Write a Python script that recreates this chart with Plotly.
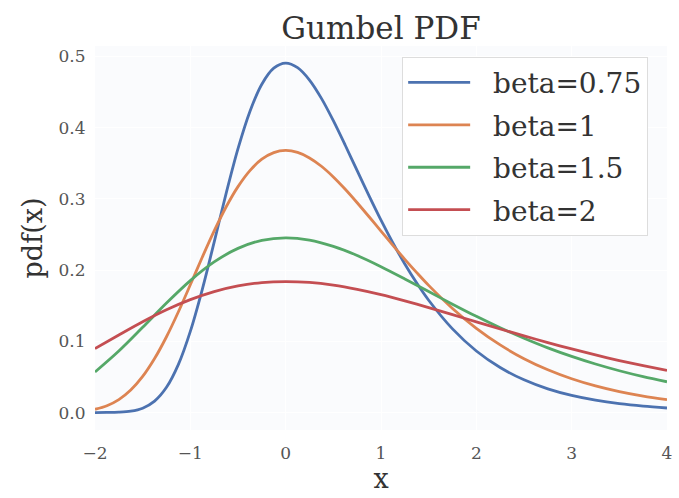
import plotly.graph_objects as go

x_vals = [-2.0, -1.75, -1.5, -1.25, -1.0, -0.75, -0.5, -0.25, 0.0, 0.25, 0.5, 0.75, 1.0,
          1.25, 1.5, 1.75, 2.0, 2.25, 2.5, 2.75, 3.0, 3.25, 3.5, 3.75, 4.0]
x_fine = [-2.0, -1.875, -1.75, -1.625, -1.5, -1.375, -1.25, -1.125, -1.0, -0.875, -0.75,
          -0.625, -0.5, -0.375, -0.25, -0.125, 0.0, 0.125, 0.25, 0.375, 0.5, 0.625, 0.75,
          0.875, 1.0, 1.125, 1.25, 1.375, 1.5,
          1.75, 2.0, 2.25, 2.5, 2.75, 3.0, 3.25, 3.5, 3.75, 4.0]

pdf_beta_075 = [0.0000, 0.0001, 0.0005, 0.0019, 0.0061, 0.0160, 0.0354, 0.0676, 0.1139,
                0.1726, 0.2392, 0.3073, 0.3704, 0.4227, 0.4609, 0.4834, 0.4905, 0.4841,
                0.4667, 0.4410, 0.4097, 0.3752, 0.3395, 0.3041, 0.2700, 0.2380, 0.2085,
                0.1817, 0.1576,
                0.1174, 0.0864, 0.0632, 0.0459, 0.0332, 0.0240, 0.0173, 0.0124, 0.0089,
                0.0064]
pdf_beta_1 = [0.0046, 0.0096, 0.0182, 0.0316, 0.0507, 0.0758, 0.1064, 0.1415, 0.1794,
              0.2179, 0.2549, 0.2885, 0.3171, 0.3396, 0.3556, 0.3649, 0.3679, 0.3651,
              0.3574, 0.3457, 0.3307, 0.3134, 0.2945, 0.2748, 0.2547, 0.2347, 0.2151,
              0.1964, 0.1785,
              0.1461, 0.1182, 0.0949, 0.0756, 0.0600, 0.0474, 0.0373, 0.0293, 0.0230,
              0.0180]
pdf_beta_15 = [0.0569, 0.0863, 0.1196, 0.1537, 0.1852, 0.2114, 0.2304, 0.2417, 0.2453,
               0.2421, 0.2333, 0.2205, 0.2048, 0.1876, 0.1698, 0.1521, 0.1350, 0.1190,
               0.1043, 0.0908, 0.0788, 0.0681, 0.0587, 0.0504, 0.0432]
pdf_beta_2 = [0.0897, 0.1089, 0.1275, 0.1443, 0.1585, 0.1698, 0.1778, 0.1825, 0.1839,
              0.1826, 0.1787, 0.1728, 0.1654, 0.1567, 0.1473, 0.1374, 0.1273, 0.1173,
              0.1076, 0.0982, 0.0893, 0.0809, 0.0730, 0.0658, 0.0591]

series_names = ["beta=0.75", "beta=1", "beta=1.5", "beta=2"]
series_x = [x_fine, x_fine, x_vals, x_vals]
series_values = [pdf_beta_075, pdf_beta_1, pdf_beta_15, pdf_beta_2]
series_colors = ["#4C72B0", "#DD8452", "#55A868", "#C44E52"]

y_ticks = [0.0, 0.1, 0.2, 0.3, 0.4, 0.5]
x_ticks = [-2, -1, 0, 1, 2, 3, 4]

FONT = "DejaVu Serif"
NBSP = "\u00a0"

fig = go.Figure()
for i, (name, xs, ys, color) in enumerate(zip(series_names, series_x, series_values, series_colors)):
    fig.add_trace(go.Scatter(
        x=xs, y=ys, mode="lines", name=NBSP * 2 + name, legendgroup=f"g{i}",
        line=dict(color=color, width=2.8, shape="spline", smoothing=0.9),
    ))

fig.update_layout(
    width=679, height=498,
    margin=dict(l=95, r=12, t=46, b=68),
    paper_bgcolor="white",
    plot_bgcolor="#fafbfd",
    font=dict(family=FONT, color="#333333"),
    title=dict(text="Gumbel PDF", xref="paper", x=0.5, xanchor="center", y=0.944, yanchor="middle",
               font=dict(family=FONT, size=31, color="#333333")),
    showlegend=True,
    legend=dict(
        x=0.537, y=0.972, xanchor="left", yanchor="top",
        bgcolor="rgba(255,255,255,0.92)", bordercolor="#dddddd", borderwidth=1,
        font=dict(family=FONT, size=28, color="#333333"),
        traceorder="grouped", tracegroupgap=3, itemwidth=62,
    ),
    xaxis=dict(
        range=[-2, 4], tickvals=x_ticks, ticktext=[str(v).replace("-", "\u2212") for v in x_ticks],
        showgrid=True, gridcolor="white", zeroline=False, showline=False, automargin=False,
        ticks="outside", ticklen=8, tickcolor="rgba(0,0,0,0)",
        tickfont=dict(family=FONT, size=17, color="#555555"),
        title=dict(text="x", font=dict(family=FONT, size=27, color="#333333"), standoff=6),
    ),
    yaxis=dict(
        range=[-0.0245, 0.5145], tickvals=y_ticks, tickformat=".1f",
        showgrid=True, gridcolor="white", zeroline=False, showline=False, automargin=False,
        ticks="outside", ticklen=5, tickcolor="rgba(0,0,0,0)",
        tickfont=dict(family=FONT, size=17, color="#555555"),
        title=dict(text="pdf(x)", font=dict(family=FONT, size=27, color="#333333"), standoff=8),
    ),
)

fig.write_html("out.html")
